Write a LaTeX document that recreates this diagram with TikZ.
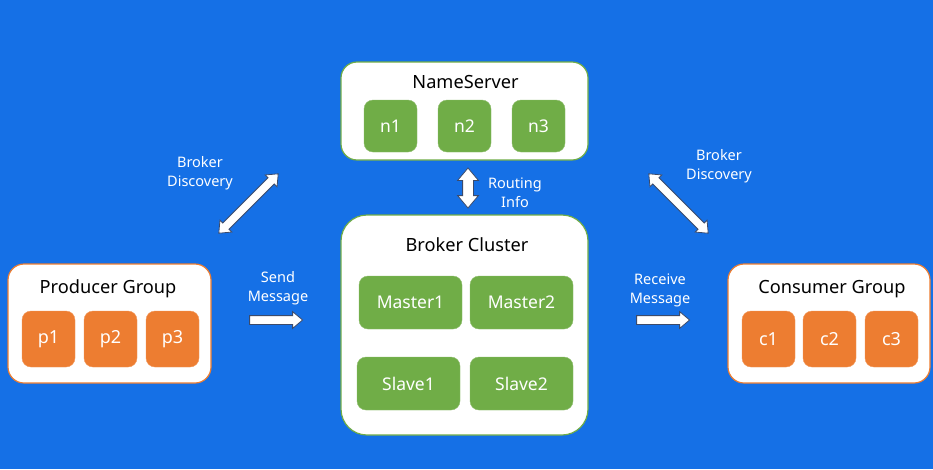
\documentclass[tikz,border=0pt]{standalone}
\usepackage{fontspec}
\setmainfont{Noto Sans}
\usetikzlibrary{shapes.arrows}
\definecolor{bg}{HTML}{1570E6}
\definecolor{grn}{HTML}{70AD47}
\definecolor{org}{HTML}{ED7D31}
\definecolor{aline}{HTML}{3C4B6B}
\begin{document}
\begin{tikzpicture}[x=1pt,y=-1pt,
  panel/.style={draw=#1, fill=white, rounded corners=16pt, line width=1.2pt, rectangle},
  title/.style={font=\fontsize{18.2}{21}\selectfont, text=black},
  gbox/.style={fill=grn, draw=grn!80!white, rounded corners=9pt, text=white, font=\fontsize{17.5}{20}\selectfont, inner sep=0pt},
  obox/.style={fill=org, draw=org!80!white, rounded corners=9pt, text=white, font=\fontsize{18}{20}\selectfont, inner sep=0pt, minimum width=53pt, minimum height=56pt},
  lbl/.style={text=white, align=center, font=\fontsize{14.5}{19}\selectfont},
  sarrow/.style={single arrow, fill=white, draw=aline, line width=0.8pt, inner xsep=0pt, inner ysep=4pt, single arrow head extend=4pt, single arrow head indent=0pt, single arrow tip angle=80, minimum height=53pt},
  darrow/.style={double arrow, fill=white, draw=aline, line width=0.8pt, inner xsep=0pt, inner ysep=#1, double arrow head extend=#1, double arrow tip angle=80},
]
\fill[bg] (0,0) rectangle (933,469);
\useasboundingbox (0,0) rectangle (933,469);

% NameServer
\node[panel=grn, minimum width=247pt, minimum height=98pt] (ns) at (464.5,111) {};
\node[title] (nst) at (465.5,82) {NameServer};
\node[gbox, minimum width=53pt, minimum height=52pt] (n1) at (390.5,126) {n1};
\node[gbox, minimum width=53pt, minimum height=52pt] (n2) at (464.5,126) {n2};
\node[gbox, minimum width=53pt, minimum height=52pt] (n3) at (538.5,126) {n3};

% Broker Cluster
\node[panel=grn, minimum width=247pt, minimum height=220pt, rounded corners=26pt] (bc) at (464.5,325) {};
\node[title] (bct) at (467,245) {Broker Cluster};
\node[gbox, minimum width=103pt, minimum height=53pt] (m1) at (410.5,302.5) {Master1};
\node[gbox, minimum width=103pt, minimum height=53pt] (m2) at (521.5,302.5) {Master2};
\node[gbox, minimum width=103pt, minimum height=53pt] (s1) at (408.5,383.5) {Slave1};
\node[gbox, minimum width=103pt, minimum height=53pt] (s2) at (521.5,383.5) {Slave2};

% Producer Group
\node[panel=org, minimum width=203pt, minimum height=119pt] (pg) at (109.5,323.5) {};
\node[title] (pgt) at (108,289) {Producer Group};
\node[obox] (p1) at (48.5,339) {p1};
\node[obox] (p2) at (110.5,339) {p2};
\node[obox] (p3) at (172.5,339) {p3};

% Consumer Group
\node[panel=org, minimum width=202pt, minimum height=119pt] (cg) at (829,323.5) {};
\node[title] (cgt) at (832,289) {Consumer Group};
\node[obox] (c1) at (768.5,339) {c1};
\node[obox] (c2) at (829.5,339) {c2};
\node[obox] (c3) at (891.5,339) {c3};

% Arrows
\node[darrow=5pt, minimum height=40pt, rotate=90] (ri) at (468,188) {};
\node[lbl] (ril) at (515,193) {Routing\\Info};

\node[darrow=4pt, minimum height=84pt, rotate=45] (bdl) at (248.5,203.5) {};
\node[lbl] (bdll) at (200,173.5) {Broker\\Discovery};

\node[darrow=4pt, minimum height=84pt, rotate=-45] (bdr) at (678.5,203.5) {};
\node[lbl] (bdrl) at (719,166.5) {Broker\\Discovery};

\node[sarrow] (sm) at (273.5,320) {};
\node[lbl] (sml) at (278,288) {Send\\Message};

\node[sarrow] (rm) at (660.5,320) {};
\node[lbl] (rml) at (660,290.5) {Receive\\Message};
\end{tikzpicture}
\end{document}
